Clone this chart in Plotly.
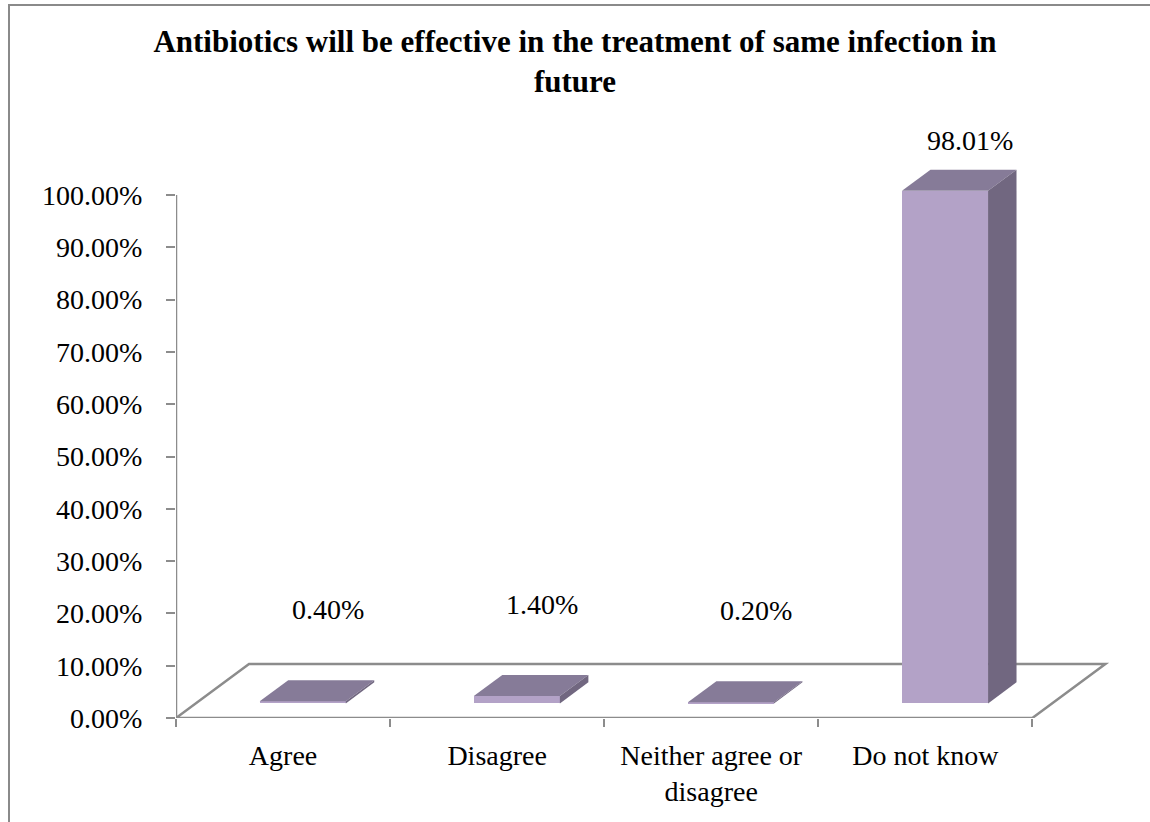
import plotly.graph_objects as go

# ---- data ----
categories = ["Agree", "Disagree", "Neither agree or<br>disagree", "Do not know"]
values = [0.40, 1.40, 0.20, 98.01]          # percent of respondents
y_ticks = [0, 10, 20, 30, 40, 50, 60, 70, 80, 90, 100]
y_tick_labels = [f"{v:.2f}%" for v in y_ticks]

# ---- canvas / plot area (pixels) ----
W, H = 1150, 822
M_L, M_R, M_T, M_B = 176, 32, 120, 104
PLOT_W, PLOT_H = W - M_L - M_R, H - M_T - M_B

# ---- pseudo-3D geometry (axis units) ----
X_MIN, X_MAX = -0.5, 3.9
Y_MAX = PLOT_H / 5.23                  # 5.23 px per percentage point
FLOOR_DX, FLOOR_DY = 0.341, 10.33      # depth vector of the floor
BAR_W = 0.402
FRONT, BACK = 0.27, 0.66               # bar depth span as fraction of floor depth
LABEL_LIFT = 20.3                      # label height above short columns
LABEL_LIFT_TALL = 12.5                 # label height above columns reaching the top

FRONT_COL = "#B3A2C7"
TOP_COL = "#867B98"
SIDE_COL = "#716780"
AXIS_COL = "#8C8C8C"
FONT = "Liberation Serif, Times New Roman, serif"

n = len(categories)
xs = list(range(n))
fdx, fdy = FRONT * FLOOR_DX, FRONT * FLOOR_DY
ddx, ddy = (BACK - FRONT) * FLOOR_DX, (BACK - FRONT) * FLOOR_DY

fig = go.Figure()

# front faces of the columns
fig.add_trace(go.Bar(
    x=xs, y=values, base=[fdy] * n, width=BAR_W,
    offset=-BAR_W / 2 + fdx,
    marker=dict(color=FRONT_COL, line=dict(width=0)),
    hoverinfo="skip", showlegend=False,
))

# top and side faces
for i, v in enumerate(values):
    left = i - BAR_W / 2 + fdx
    right = left + BAR_W
    bottom = fdy
    top = fdy + v
    fig.add_trace(go.Scatter(
        x=[left, right, right + ddx, left + ddx, left],
        y=[top, top, top + ddy, top + ddy, top],
        fill="toself", fillcolor=TOP_COL, mode="lines",
        line=dict(width=0, color=TOP_COL), hoverinfo="skip", showlegend=False,
    ))
    fig.add_trace(go.Scatter(
        x=[right, right + ddx, right + ddx, right, right],
        y=[bottom, bottom + ddy, top + ddy, top, bottom],
        fill="toself", fillcolor=SIDE_COL, mode="lines",
        line=dict(width=0, color=SIDE_COL), hoverinfo="skip", showlegend=False,
    ))

# value labels
for i, v in enumerate(values):
    ly = v + LABEL_LIFT
    if ly > y_ticks[-1]:
        ly = v + LABEL_LIFT_TALL
    fig.add_annotation(
        x=i + 0.21, y=ly, text=f"{v:.2f}%", showarrow=False,
        font=dict(family=FONT, size=28, color="black"),
        xanchor="center", yanchor="middle",
    )

x_first, x_last = -0.5, n - 0.5
shapes = [
    # floor outline (front edge doubles as the category axis line)
    dict(type="path", xref="x", yref="y", layer="below",
         path=(f"M {x_first},0 L {x_last},0 L {x_last + FLOOR_DX},{FLOOR_DY} "
               f"L {x_first + FLOOR_DX},{FLOOR_DY} Z"),
         line=dict(color=AXIS_COL, width=2.5)),
    # value axis line
    dict(type="line", xref="x", yref="y", layer="below",
         x0=x_first, x1=x_first, y0=0, y1=y_ticks[-1],
         line=dict(color=AXIS_COL, width=2.5)),
    # chart frame (left and top edges fall inside the canvas)
    dict(type="rect", xref="paper", yref="paper",
         x0=(9 - M_L) / PLOT_W, x1=2, y0=-2, y1=(H - M_B - 5) / PLOT_H,
         line=dict(color="#8A8A8A", width=2), fillcolor="rgba(0,0,0,0)"),
]

fig.update_layout(
    width=W, height=H,
    margin=dict(l=M_L, r=M_R, t=M_T, b=M_B),
    paper_bgcolor="white", plot_bgcolor="white",
    font=dict(family=FONT, size=28, color="black"),
    title=dict(
        text="<b>Antibiotics will be effective in the treatment of same infection in<br>future</b>",
        x=0.5, xref="container", xanchor="center",
        y=1 - 52 / H, yref="container", yanchor="top",
        font=dict(family=FONT, size=31, color="black"),
    ),
    shapes=shapes,
    bargap=0,
    showlegend=False,
)

fig.update_xaxes(
    range=[X_MIN, X_MAX], showgrid=False, zeroline=False, showline=False,
    tickmode="array", tickvals=xs, ticktext=categories, ticks="",
    minor=dict(tickmode="array", tickvals=[x_first + k for k in range(n + 1)],
               ticks="outside", ticklen=8, tickwidth=2, tickcolor=AXIS_COL),
    ticklabelstandoff=18,
    tickfont=dict(family=FONT, size=28),
)
fig.update_yaxes(
    range=[0, Y_MAX], showgrid=False, zeroline=False, showline=False,
    tickmode="array", tickvals=y_ticks, ticktext=y_tick_labels,
    ticks="outside", ticklen=9, tickwidth=2, tickcolor=AXIS_COL,
    ticklabelstandoff=18,
    tickfont=dict(family=FONT, size=28),
)

fig.write_html("out.html")
